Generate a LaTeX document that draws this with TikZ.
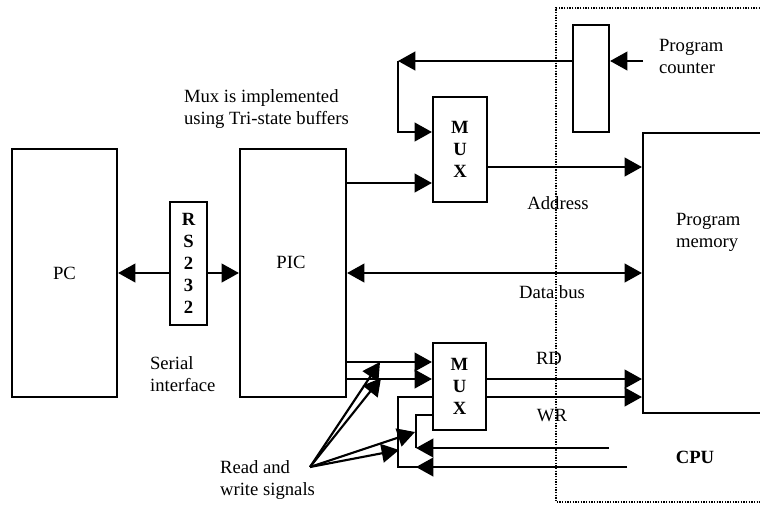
\documentclass[tikz,border=0pt]{standalone}
\usepackage{fontspec}
\setmainfont{Liberation Serif}
\usetikzlibrary{arrows.meta}
\begin{document}
\begin{tikzpicture}[x=0.75pt, y=-0.75pt, font=\fontsize{14}{16.5}\selectfont, line width=1.6pt, line join=miter, >={Triangle[length=13pt,width=14pt]},
		box/.style={draw, inner sep=0pt, align=center},
		bbox/.style={box, font=\fontsize{14}{16.5}\selectfont\bfseries},
		lbl/.style={inner sep=0pt, align=left, anchor=west}]
	\useasboundingbox (0,0) rectangle (760,504);
	% blocks
	\node[box, minimum width=78.75pt, minimum height=186pt] (pc) at (64.5,273) {PC};
	\node[bbox, minimum width=27.75pt, minimum height=92.25pt] (rs) at (188.5,263.5) {R\\S\\2\\3\\2};
	\node[box, minimum width=79.5pt, minimum height=186pt] (pic) at (293,273) {};
	\node (pictext) at (291,262) {PIC};
	\node[bbox, minimum width=40.5pt, minimum height=78.75pt] (muxa) at (460,149.5) {M\\U\\X};
	\node[bbox, minimum width=39.75pt, minimum height=65.25pt] (muxb) at (459.5,386.5) {M\\U\\X};
	\node[box, minimum width=27pt, minimum height=80.25pt] (pcnt) at (591,78.5) {};
	\node[box, minimum width=110.25pt, minimum height=210pt] (mem) at (716.5,273) {};
	% CPU boundary
	\draw[densely dotted, line width=1pt] (760,8) -- (556,8) -- (556,502) -- (760,502);
	% labels
	\node[lbl] (muxnote) at (183,109) {Mux is implemented\\using Tri-state buffers};
	\node[lbl] (pcntlabel) at (658,56) {Program\\counter};
	\node[lbl] (memlabel) at (675,232) {Program\\memory};
	\node[lbl] (serial) at (149,374) {Serial\\interface};
	\node[lbl] (rwlabel) at (219,480) {Read and\\write signals};
	\node (addr) at (558,203) {Address};
	\node (data) at (552,292) {Data bus};
	\node (rd) at (549,358) {RD};
	\node (wr) at (552,416) {WR};
	\node[font=\fontsize{14}{16.5}\selectfont\bfseries] (cpu) at (695,457) {CPU};
	% helper points
	\path (398,61) coordinate (fb) (643,61) coordinate (pcin)
		(609,448) coordinate (rdin) (627,467) coordinate (wrin)
		(416,448) coordinate (ja) (398,467) coordinate (jb)
		(310,467) coordinate (rw)
		(380,362) coordinate (t1) (381,378) coordinate (t2)
		(415,432) coordinate (t3) (399,450) coordinate (t4);
	% serial link
	\draw[->] (rs.west |- pc.east) -- (pc.east);
	\draw[->] (rs.east |- pic.west) -- (pic.west);
	% address path
	\draw[->] (pcin) -- (pcnt.east |- pcin);
	\draw[->] (pcnt.west |- fb) -- (fb);
	\draw[->] (fb) |- (muxa.west |- 0,132);
	\draw[->] (pic.east |- 0,183) -- (muxa.west |- 0,183);
	\draw[->] (muxa.east |- 0,167) -- (mem.west |- 0,167);
	% data bus
	\draw[<->] (pic.east) -- (mem.west);
	% read / write
	\draw[->] (pic.east |- 0,362) -- (muxb.west |- 0,362);
	\draw[->] (pic.east |- 0,379) -- (muxb.west |- 0,379);
	\draw[->] (muxb.east |- 0,379) -- (mem.west |- 0,379);
	\draw[->] (muxb.east |- 0,397) -- (mem.west |- 0,397);
	\draw[->] (rdin) -- (ja);
	\draw (ja) |- (muxb.west |- 0,415);
	\draw (wrin) -- (jb) |- (muxb.west |- 0,397);
	\draw[->] (wrin) -- (ja |- wrin);
	\foreach \p in {t1,t2,t3,t4}
		\draw[->] (rw) -- (\p);
\end{tikzpicture}
\end{document}
